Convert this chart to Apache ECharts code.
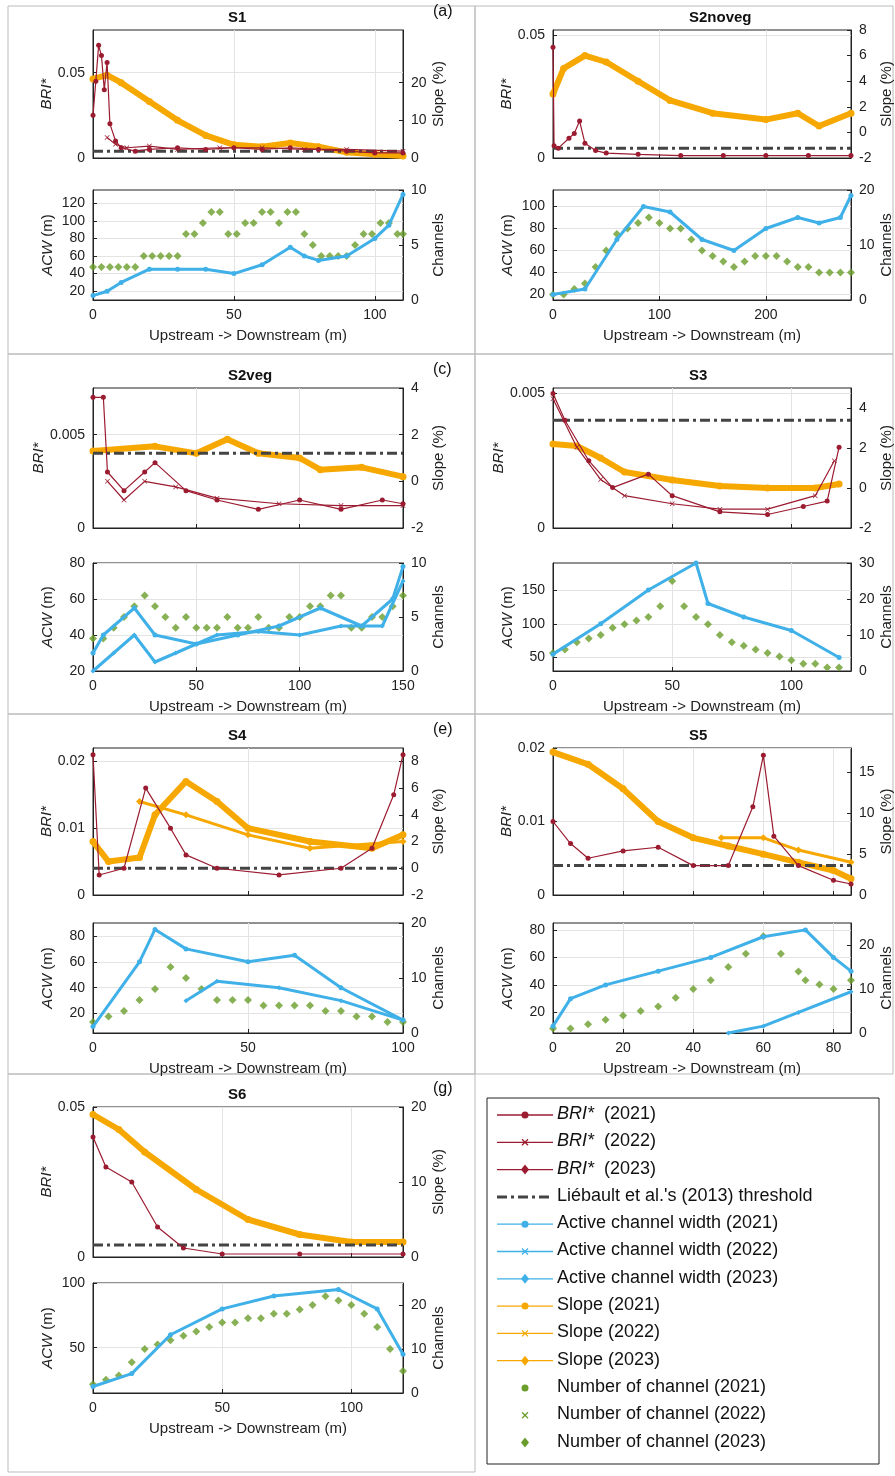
<!DOCTYPE html>
<html><head><meta charset="utf-8">
<script src="https://cdn.jsdelivr.net/npm/echarts@6/dist/echarts.min.js"></script>
<style>html,body{margin:0;background:#fff}#c{width:895px;height:1476px}</style></head>
<body><div id="c"></div>
<script>
// ---- data ----
const a_bri21=[[0,0.025],[1,0.045],[2,0.066],[3,0.06],[4,0.04],[5,0.056],[6,0.02],[8,0.01],[10,0.006],[15,0.004],[20,0.005],[30,0.006],[40,0.005],[50,0.006],[60,0.005],[70,0.006],[80,0.005],[90,0.004],[100,0.003],[110,0.003]];
const a_bri23=[[5,0.012],[8,0.008],[12,0.006],[20,0.007],[30,0.005],[45,0.006],[60,0.006],[75,0.005],[90,0.005],[110,0.004]];
const a_slope=[[0,21],[5,22],[10,20],[20,15],[30,10],[40,6],[50,3.5],[60,3],[70,4],[80,3],[90,1.5],[100,1],[110,0.5]];
const a_acw21=[[0,15],[5,20],[10,30],[20,45],[30,45],[40,45],[50,40],[60,50],[70,70],[75,60],[80,55],[90,60],[100,80],[105,95],[110,130]];
const a_ch=[[0,3],[3,3],[6,3],[9,3],[12,3],[15,3],[18,4],[21,4],[24,4],[27,4],[30,4],[33,6],[36,6],[39,7],[42,8],[45,8],[48,6],[51,6],[54,7],[57,7],[60,8],[63,8],[66,7],[69,8],[72,8],[75,6],[78,5],[81,4],[84,4],[87,4],[90,4],[93,5],[96,6],[99,6],[102,7],[105,7],[108,6],[110,6]];

const b_bri21=[[0,0.045],[1,0.005],[5,0.004],[15,0.008],[20,0.01],[25,0.015],[30,0.006],[40,0.003],[50,0.002],[80,0.0015],[120,0.001],[160,0.001],[200,0.001],[240,0.001],[280,0.001]];
const b_slope=[[0,3],[10,5],[30,6],[50,5.5],[80,4],[110,2.5],[150,1.5],[200,1],[230,1.5],[250,0.5],[280,1.5]];
const b_acw21=[[0,20],[30,25],[60,70],[85,100],[110,95],[140,70],[170,60],[200,80],[230,90],[250,85],[270,90],[280,110]];
const b_ch=[[0,1],[10,1],[20,2],[30,3],[40,6],[50,9],[60,12],[70,13],[80,14],[90,15],[100,14],[110,13],[120,13],[130,11],[140,9],[150,8],[160,7],[170,6],[180,7],[190,8],[200,8],[210,8],[220,7],[230,6],[240,6],[250,5],[260,5],[270,5],[280,5]];

const c_bri21=[[0,0.007],[5,0.007],[7,0.003],[15,0.002],[25,0.003],[30,0.0035],[45,0.002],[60,0.0015],[80,0.001],[100,0.0015],[120,0.001],[140,0.0015],[150,0.0013]];
const c_bri22=[[7,0.0025],[15,0.0015],[25,0.0025],[40,0.0022],[60,0.0016],[90,0.0013],[120,0.0012],[150,0.0012]];
const c_slope=[[0,1.3],[30,1.5],[50,1.2],[65,1.8],[80,1.2],[100,1],[110,0.5],[130,0.6],[150,0.2]];
const c_acw21=[[0,30],[5,40],[20,55],[30,40],[50,35],[70,40],[90,45],[110,55],[130,45],[145,60],[150,78]];
const c_acw23=[[0,20],[10,30],[20,40],[30,25],[40,30],[60,40],[80,42],[100,40],[120,45],[140,45],[150,70]];
const c_ch=[[0,3],[5,3],[10,4],[15,5],[20,6],[25,7],[30,6],[35,5],[40,4],[45,5],[50,4],[55,4],[60,4],[65,5],[70,4],[75,4],[80,5],[85,4],[90,4],[95,5],[100,5],[105,6],[110,6],[115,7],[120,7],[125,4],[130,4],[135,5],[140,5],[145,6],[150,7]];

const d_bri21=[[0,0.005],[5,0.004],[15,0.0025],[25,0.0015],[40,0.002],[50,0.0012],[70,0.0006],[90,0.0005],[105,0.0008],[115,0.001],[120,0.003]];
const d_bri23=[[0,0.0048],[10,0.003],[20,0.0018],[30,0.0012],[50,0.0009],[70,0.0007],[90,0.0007],[110,0.0012],[118,0.0025]];
const d_slope=[[0,2.2],[10,2.1],[20,1.5],[30,0.8],[50,0.4],[70,0.1],[90,0],[110,0],[120,0.2]];
const d_acw21=[[0,55],[20,100],[40,150],[60,190],[65,130],[80,110],[100,90],[120,50]];
const d_ch=[[0,5],[5,6],[10,8],[15,9],[20,10],[25,12],[30,13],[35,14],[40,15],[45,18],[50,25],[55,18],[60,15],[65,13],[70,10],[75,8],[80,7],[85,6],[90,5],[95,4],[100,3],[105,2],[110,2],[115,1],[120,1]];

const e_bri21=[[0,0.021],[2,0.003],[10,0.004],[17,0.016],[25,0.01],[30,0.006],[40,0.004],[60,0.003],[80,0.004],[90,0.007],[97,0.015],[100,0.021]];
const e_slope21=[[0,2],[5,0.5],[15,0.8],[20,4],[30,6.5],[40,5],[50,3],[70,2],[90,1.5],[100,2.5]];
const e_slope23=[[15,5],[30,4],[50,2.5],[70,1.5],[100,2]];
const e_acw21=[[0,10],[15,60],[20,85],[30,70],[50,60],[65,65],[80,40],[100,15]];
const e_acw23=[[30,30],[40,45],[60,40],[80,30],[100,15]];
const e_ch=[[0,2],[5,3],[10,4],[15,6],[20,8],[25,12],[30,10],[35,8],[40,6],[45,6],[50,6],[55,5],[60,5],[65,5],[70,5],[75,4],[80,4],[85,3],[90,3],[95,2],[100,2]];

const f_bri21=[[0,0.01],[5,0.007],[10,0.005],[20,0.006],[30,0.0065],[40,0.004],[50,0.004],[57,0.012],[60,0.019],[63,0.008],[70,0.004],[80,0.002],[85,0.0015]];
const f_slope21=[[0,17.5],[10,16],[20,13],[30,9],[40,7],[50,6],[60,5],[70,4],[80,3],[85,2]];
const f_slope23=[[48,7],[60,7],[70,5.5],[85,4]];
const f_acw21=[[0,10],[5,30],[15,40],[30,50],[45,60],[60,75],[72,80],[80,60],[85,50]];
const f_acw23=[[50,5],[60,10],[70,20],[85,35]];
const f_ch=[[0,1],[5,1],[10,2],[15,3],[20,4],[25,5],[30,6],[35,8],[40,10],[45,12],[50,15],[55,18],[60,22],[65,18],[70,14],[72,12],[76,11],[80,10],[85,12]];

const g_bri21=[[0,0.04],[5,0.03],[15,0.025],[25,0.01],[35,0.003],[50,0.001],[80,0.001],[120,0.001]];
const g_slope=[[0,19],[10,17],[20,14],[40,9],[60,5],[80,3],[100,2],[120,2]];
const g_acw21=[[0,20],[15,30],[30,60],[50,80],[70,90],[95,95],[110,80],[120,45]];
const g_ch=[[0,2],[5,3],[10,4],[15,7],[20,10],[25,11],[30,12],[35,13],[40,14],[45,15],[50,16],[55,16],[60,17],[65,17],[70,18],[75,18],[80,19],[85,20],[90,22],[95,21],[100,20],[105,18],[110,15],[115,10],[120,5]];

const THRESH=0.004;
const C={bri:'#9b1b30',acw:'#3fb0e8',slope:'#f7a800',ch:'#6a9d2c',th:'#444'};
const CROSS='path://M0,1L1,0L5,4L9,0L10,1L6,5L10,9L9,10L5,6L1,10L0,9L4,5Z';

const panels=[
 {t:'S1',l:'(a)',L:93,W:310,T:30,H:128,B:190,BH:110,x:[0,110,[0,50,100]],bri:[0,0.075,[0,0.05]],sl:[0,34,[0,10,20]],acw:[10,135,[20,40,60,80,100,120]],ch:[0,10,[0,5,10]],
  bri_s:[a_bri21,a_bri23],sl_s:[a_slope],acw_s:[a_acw21],ch_s:[a_ch]},
 {t:'S2noveg',l:'(b)',L:553,W:312,T:30,H:128,B:190,BH:110,x:[0,280,[0,100,200]],bri:[0,0.052,[0,0.05]],sl:[-2,8,[-2,0,2,4,6,8]],acw:[15,115,[20,40,60,80,100]],ch:[0,20,[0,10,20]],
  bri_s:[b_bri21],sl_s:[b_slope],acw_s:[b_acw21],ch_s:[b_ch]},
 {t:'S2veg',l:'(c)',L:93,W:310,T:388,H:140,B:563,BH:108,x:[0,150,[0,50,100,150]],bri:[0,0.0075,[0,0.005]],sl:[-2,4,[-2,0,2,4]],acw:[20,80,[20,40,60,80]],ch:[0,10,[0,5,10]],
  bri_s:[c_bri21,c_bri22],sl_s:[c_slope],acw_s:[c_acw21,c_acw23],ch_s:[c_ch]},
 {t:'S3',l:'(d)',L:553,W:312,T:388,H:140,B:563,BH:108,x:[0,125,[0,50,100]],bri:[0,0.0052,[0,0.005]],sl:[-2,5,[-2,0,2,4]],acw:[30,190,[50,100,150]],ch:[0,30,[0,10,20,30]],
  bri_s:[d_bri21,d_bri23],sl_s:[d_slope],acw_s:[d_acw21],ch_s:[d_ch]},
 {t:'S4',l:'(e)',L:93,W:310,T:748,H:147,B:923,BH:110,x:[0,100,[0,50,100]],bri:[0,0.022,[0,0.01,0.02]],sl:[-2,9,[-2,0,2,4,6,8]],acw:[5,90,[20,40,60,80]],ch:[0,20,[0,10,20]],
  bri_s:[e_bri21],sl_s:[e_slope21,e_slope23],acw_s:[e_acw21,e_acw23],ch_s:[e_ch]},
 {t:'S5',l:'(f)',L:553,W:312,T:748,H:147,B:923,BH:110,x:[0,85,[0,20,40,60,80]],bri:[0,0.02,[0,0.01,0.02]],sl:[0,18,[0,5,10,15]],acw:[5,85,[20,40,60,80]],ch:[0,25,[0,10,20]],
  bri_s:[f_bri21],sl_s:[f_slope21,f_slope23],acw_s:[f_acw21,f_acw23],ch_s:[f_ch]},
 {t:'S6',l:'(g)',L:93,W:310,T:1107,H:150,B:1283,BH:110,x:[0,120,[0,50,100]],bri:[0,0.05,[0,0.05]],sl:[0,20,[0,10,20]],acw:[15,100,[50,100]],ch:[0,25,[0,10,20]],
  bri_s:[g_bri21],sl_s:[g_slope],acw_s:[g_acw21],ch_s:[g_ch]}
];

const grid=[],xAxis=[],yAxis=[],series=[],graphic=[];
const F='Liberation Sans, Arial, sans-serif';
function yax(gi,r,pos,name,showSplit){
  return {gridIndex:gi,type:'value',min:r[0],max:r[1],position:pos,name:name,nameLocation:'middle',
   nameGap:pos==='left'?38:28,nameTextStyle:{fontSize:15,fontFamily:F,color:'#222',rich:{i:{fontStyle:'italic',fontSize:15,fontFamily:F}}},
   axisLine:{show:true,lineStyle:{color:'#222'}},axisTick:{inside:true,length:4,customValues:r[2]},
   axisLabel:{fontSize:14,fontFamily:F,color:'#222',customValues:r[2]},
   splitLine:{show:showSplit,lineStyle:{color:'#e3e3e3'}}};
}
panels.forEach((p,i)=>{
  const g1=grid.length;
  grid.push({left:p.L,top:p.T,width:p.W,height:p.H,show:true,borderColor:'#222',backgroundColor:'#fff'});
  grid.push({left:p.L,top:p.B,width:p.W,height:p.BH,show:true,borderColor:'#222',backgroundColor:'#fff'});
  [g1,g1+1].forEach((g,k)=>xAxis.push({gridIndex:g,type:'value',min:p.x[0],max:p.x[1],
    name:k?'Upstream -> Downstream (m)':'',nameLocation:'middle',nameGap:28,nameTextStyle:{fontSize:15,fontFamily:F,color:'#222'},
    axisLine:{onZero:false,lineStyle:{color:'#222'}},axisTick:{inside:true,length:4,customValues:p.x[2]},
    axisLabel:{show:!!k,fontSize:14,fontFamily:F,color:'#222',customValues:p.x[2]},splitLine:{show:true,lineStyle:{color:'#e3e3e3'}}}));
  const y0=yAxis.length;
  yAxis.push(yax(g1,p.bri,'left','{i|BRI*}',true));
  yAxis.push(yax(g1,p.sl,'right','Slope (%)',false));
  yAxis.push(yax(g1+1,p.acw,'left','{i|ACW} (m)',true));
  yAxis.push(yax(g1+1,p.ch,'right','Channels',false));
  const xi=g1, xb=g1+1;
  const syms=['diamond',CROSS,'circle'];
  p.ch_s.forEach((d,k)=>series.push({type:'scatter',xAxisIndex:xb,yAxisIndex:y0+3,data:d,symbol:syms[k],symbolSize:8,itemStyle:{color:C.ch},z:2}));
  p.acw_s.forEach((d,k)=>series.push({type:'line',xAxisIndex:xb,yAxisIndex:y0+2,data:d,symbol:k?'diamond':'circle',symbolSize:5,lineStyle:{color:C.acw,width:3},itemStyle:{color:C.acw},z:3}));
  p.sl_s.forEach((d,k)=>series.push({type:'line',xAxisIndex:xi,yAxisIndex:y0+1,data:d,symbol:k?'diamond':'circle',symbolSize:7,lineStyle:{color:C.slope,width:k?3:6},itemStyle:{color:C.slope},z:2}));
  series.push({type:'line',xAxisIndex:xi,yAxisIndex:y0,data:[[p.x[0],THRESH],[p.x[1],THRESH]],symbol:'none',lineStyle:{color:C.th,width:3,type:[10,4,3,4]},z:4});
  p.bri_s.forEach((d,k)=>series.push({type:'line',xAxisIndex:xi,yAxisIndex:y0,data:d,symbol:k?(k===1?CROSS:'diamond'):'circle',symbolSize:5,lineStyle:{color:C.bri,width:1.2},itemStyle:{color:C.bri},z:5}));
  graphic.push({type:'text',left:p.L+p.W/2-20,top:p.T-20,style:{text:p.t,font:'bold 15px '+F,fill:'#111'}});
  graphic.push({type:'text',left:p.L+p.W+30,top:p.T-26,style:{text:p.l,font:'16px '+F,fill:'#111'}});
});
[[8,6,467,348],[475,6,418,348],[8,354,467,360],[475,354,418,360],[8,714,467,360],[475,714,418,360],[8,1074,467,398]].forEach(r=>
  graphic.push({type:'rect',shape:{x:r[0],y:r[1],width:r[2],height:r[3]},style:{fill:'none',stroke:'#bbb',lineWidth:1},z:-1}));
const LX=487,LY=1098;
graphic.push({type:'rect',shape:{x:LX,y:LY,width:392,height:366},style:{fill:'#fff',stroke:'#222',lineWidth:1}});
const leg=[['BRI* (2021)','bri','line','circle'],['BRI* (2022)','bri','line','cross'],['BRI* (2023)','bri','line','diamond'],
 ["Liébault et al.'s (2013) threshold",'th','dash',''],['Active channel width (2021)','acw','line','circle'],['Active channel width (2022)','acw','line','cross'],
 ['Active channel width (2023)','acw','line','diamond'],['Slope (2021)','slope','line','circle'],['Slope (2022)','slope','line','cross'],['Slope (2023)','slope','line','diamond'],
 ['Number of channel (2021)','ch','pt','circle'],['Number of channel (2022)','ch','pt','cross'],['Number of channel (2023)','ch','pt','diamond']];
leg.forEach((e,i)=>{
  const y=LY+17+i*27.3, col=C[e[1]];
  if(e[2]==='line') graphic.push({type:'line',shape:{x1:LX+10,y1:y,x2:LX+66,y2:y},style:{stroke:col,lineWidth:1.3}});
  if(e[2]==='dash') graphic.push({type:'line',shape:{x1:LX+10,y1:y,x2:LX+66,y2:y},style:{stroke:col,lineWidth:3,lineDash:[10,4,3,4]}});
  const cx=LX+38;
  if(e[3]==='circle') graphic.push({type:'circle',shape:{cx:cx,cy:y,r:3.5},style:{fill:col}});
  if(e[3]==='diamond') graphic.push({type:'polygon',shape:{points:[[cx,y-5],[cx+4,y],[cx,y+5],[cx-4,y]]},style:{fill:col}});
  if(e[3]==='cross'){graphic.push({type:'line',shape:{x1:cx-3,y1:y-3,x2:cx+3,y2:y+3},style:{stroke:col,lineWidth:1.3}});graphic.push({type:'line',shape:{x1:cx-3,y1:y+3,x2:cx+3,y2:y-3},style:{stroke:col,lineWidth:1.3}});}
  const it=e[0].startsWith('BRI*');
  graphic.push({type:'text',left:LX+70,top:y-10,style:{text:it?'BRI*':e[0],font:(it?'italic ':'')+'18px '+F,fill:'#111'}});
  if(it) graphic.push({type:'text',left:LX+112,top:y-10,style:{text:e[0].slice(4),font:'18px '+F,fill:'#111'}});
});
const ch=echarts.init(document.getElementById('c'));
ch.setOption({animation:false,grid,xAxis,yAxis,series,graphic});
</script></body></html>
